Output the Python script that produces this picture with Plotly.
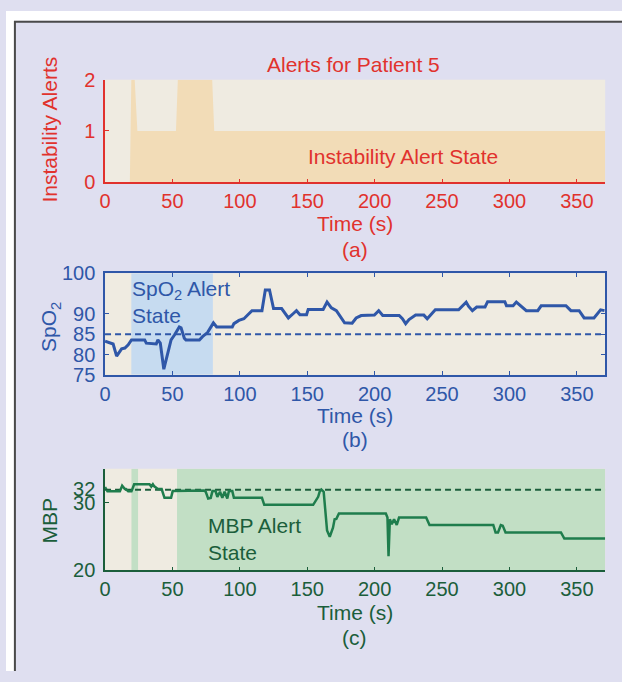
import plotly.graph_objects as go

# ---------------- data ----------------
time_ticks = [0, 50, 100, 150, 200, 250, 300, 350]

# (a) instability alert count
alert_time = [0, 18.4, 19.5, 22, 24, 52.6, 54, 79.5, 81, 371]
alert_count = [0, 0, 2, 2, 1, 1, 2, 2, 1, 1]

# (b) SpO2
spo2_time = [0, 3.7, 6, 8.6, 11, 12.3, 14.7, 17.2, 19.6, 29.4, 30.6, 38, 39.2, 41, 43.6, 46.6, 49,
             51.5, 55.1, 56.4, 58.8, 60, 70, 72.3, 76, 80.4, 82.8, 94.4, 95.6, 99.3, 103, 105.4, 109,
             116.4, 118.9, 122, 125, 131, 133.5, 136, 139.7, 142, 144.6, 149.5, 150.7, 161.8, 164.7,
             167.9, 171.6, 174, 177.7, 183.3, 186.3, 190, 199.8, 203, 206, 218.2, 220.6, 223, 225.5,
             230.4, 236.5, 239, 241.4, 245, 262.3, 264.7, 267.9, 269.6, 272.5, 275.7, 281.9, 283.8,
             296.6, 297.8, 302.7, 305.1, 308.8, 312.5, 321, 323.5, 341.9, 345.6, 351.7, 355.4, 362.7,
             366.4, 367.6, 370.5]
spo2 = [83.3, 82.8, 82.6, 79.6, 80.8, 81.4, 81.6, 82.4, 83.6, 83.6, 82.8, 82.6, 83.6, 82.8, 76.4, 80.8,
        83.6, 84.8, 86.8, 86.6, 84.0, 83.6, 83.6, 84.4, 85.4, 87.8, 86.8, 86.8, 87.6, 88.4, 88.8, 89.6,
        90.8, 90.8, 95.9, 95.9, 91.3, 91.3, 90.1, 89.0, 90.1, 90.8, 89.8, 89.8, 91.1, 91.1, 92.9, 91.5,
        90.8, 89.6, 87.8, 87.7, 89.0, 89.6, 89.7, 90.8, 89.6, 89.6, 88.8, 87.6, 88.6, 89.7, 89.7, 88.8,
        89.6, 91.0, 91.0, 91.9, 92.9, 91.9, 90.8, 91.7, 91.7, 93.0, 93.0, 92.0, 92.0, 92.9, 91.9, 90.8,
        90.8, 92.0, 92.0, 90.8, 90.8, 89.0, 89.0, 90.4, 91.0, 90.8]
spo2_threshold = 85
spo2_alert_intervals = [(19.5, 80)]
spo2_ticks = [75, 80, 85, 90, 100]

# (c) MBP
mbp_time = [0, 1.2, 1.8, 11, 12.7, 14.7, 15.5, 17.2, 19.6, 21.6, 33, 34.3, 35.5, 36.5, 39.2, 42, 44.1,
            49, 50.2, 73.5, 74.7, 76.5, 78.4, 79.7, 82, 83.3, 85.3, 87, 88.7, 90.7, 91.9, 94.4, 95.6,
            116.4, 118.1, 154.4, 156.9, 158.1, 159.3, 160.5, 162.2, 163.7, 164.7, 166.7, 169.1, 170.3,
            171.6, 173.5, 208.3, 209.5, 210.3, 211.3, 212.7, 214.4, 216.4, 218.1, 238.2, 240.7, 288,
            289.7, 291.5, 293.6, 295, 297.1, 338.2, 340.7, 371]
mbp = [32.3, 31.8, 31.66, 31.66, 32.5, 32.0, 32.0, 31.66, 31.66, 32.7, 32.7, 32.37, 32.7, 32.4, 32.0,
       32.0, 30.7, 30.7, 31.7, 31.8, 31.6, 30.6, 30.7, 31.7, 31.7, 30.85, 31.6, 30.7, 31.6, 30.6, 31.7,
       31.7, 30.7, 30.7, 29.67, 29.67, 30.4, 30.85, 31.66, 31.94, 31.6, 27.8, 25.9, 24.96, 26.3, 27.55,
       27.6, 28.4, 28.4, 27.8, 22.1, 27.55, 26.8, 27.55, 26.7, 27.8, 27.8, 26.7, 26.7, 25.6, 25.6, 26.7,
       26.6, 25.6, 25.6, 24.7, 24.7]
mbp_threshold = 31.9
mbp_alert_intervals = [(19.6, 24.5), (53.4, 371)]
mbp_ticks = [20, 30, 32]

x_range = [0, 371]

# ---------------- style ----------------
FONT = "Liberation Sans, Arial, Helvetica, sans-serif"
RED = "#e1322d"
ORANGE_FILL = "#f2dcb7"
BLUE = "#2f57a8"
BLUE_FILL = "#c6dbf0"
GREEN = "#1f7d4d"
GREEN_TXT = "#1b5e3b"
GREEN_FILL = "#c2dfc5"
BEIGE = "#efebe1"
LAVENDER = "#dfdff0"
W, H = 622, 682
FS_TICK = 20
FS = 21

def px(x):
    return x / W

def py(y):
    return 1 - y / H

fig = go.Figure()

# (a)
fig.add_trace(go.Scatter(x=alert_time, y=alert_count, mode="lines", fill="tozeroy",
                         fillcolor=ORANGE_FILL, line=dict(width=0, color=ORANGE_FILL),
                         xaxis="x", yaxis="y", hoverinfo="skip", showlegend=False))
# (b)
fig.add_trace(go.Scatter(x=x_range, y=[spo2_threshold, spo2_threshold], mode="lines",
                         line=dict(color=BLUE, width=2, dash="6px,4px"),
                         xaxis="x2", yaxis="y2", showlegend=False))
fig.add_trace(go.Scatter(x=spo2_time, y=spo2, mode="lines", line=dict(color=BLUE, width=3),
                         xaxis="x2", yaxis="y2", showlegend=False))
# (c)
fig.add_trace(go.Scatter(x=x_range, y=[mbp_threshold, mbp_threshold], mode="lines",
                         line=dict(color=GREEN_TXT, width=2, dash="6px,4px"),
                         xaxis="x3", yaxis="y3", showlegend=False))
fig.add_trace(go.Scatter(x=mbp_time, y=mbp, mode="lines", line=dict(color=GREEN, width=2.5),
                         xaxis="x3", yaxis="y3", showlegend=False))

shapes = []
for (a, b) in spo2_alert_intervals:
    shapes.append(dict(type="rect", xref="x2", yref="y2", x0=a, x1=b, y0=75, y1=100,
                       fillcolor=BLUE_FILL, line=dict(width=0), layer="below"))
for (a, b) in mbp_alert_intervals:
    shapes.append(dict(type="rect", xref="x3", yref="y3", x0=a, x1=b, y0=20, y1=35,
                       fillcolor=GREEN_FILL, line=dict(width=0), layer="below"))
# white outer margin + frame
shapes.append(dict(type="rect", xref="paper", yref="paper", x0=0, x1=1, y0=py(10), y1=1,
                   fillcolor="white", line=dict(width=0), layer="below"))
shapes.append(dict(type="rect", xref="paper", yref="paper", x0=0, x1=px(8), y0=0, y1=1,
                   fillcolor="white", line=dict(width=0), layer="below"))
shapes.append(dict(type="path", xref="paper", yref="paper",
                   path=f"M {px(9)},0 L {px(9)},{py(11)} L 1,{py(11)}",
                   line=dict(color="#4a4a4a", width=2), layer="above"))


def xaxis(color, anchor, mirror=False):
    return dict(domain=[px(100), px(605)], anchor=anchor, range=x_range, tickvals=time_ticks,
                ticks="inside", ticklen=4, tickcolor=color, showline=True,
                linecolor=color, linewidth=1.5, mirror=mirror, showgrid=False,
                zeroline=False, tickfont=dict(family=FONT, size=FS_TICK, color=color))


def yaxis(domain, rng, ticks, color, anchor, mirror=False):
    return dict(domain=domain, anchor=anchor, range=rng, tickvals=ticks, ticks="inside",
                ticklen=4, tickcolor=color, showline=True, linecolor=color, linewidth=1.5,
                mirror=mirror, showgrid=False, zeroline=False, ticklabelstandoff=4,
                tickfont=dict(family=FONT, size=FS_TICK, color=color))


fig.update_layout(
    width=W, height=H, margin=dict(l=0, r=0, t=0, b=0),
    paper_bgcolor=LAVENDER, plot_bgcolor=BEIGE, showlegend=False,
    xaxis=xaxis(RED, "y"),
    yaxis=yaxis([py(177), py(71)], [0, 2], [0, 1, 2], RED, "x"),
    xaxis2=xaxis(BLUE, "y2", mirror="ticks"),
    yaxis2=yaxis([py(376), py(271)], [75, 100], spo2_ticks, BLUE, "x2", mirror="ticks"),
    xaxis3=xaxis(GREEN_TXT, "y3"),
    yaxis3=yaxis([py(578), py(473)], [20, 35], mbp_ticks, GREEN_TXT, "x3"),
    shapes=shapes,
)

def ann(text, x, y, color, angle=0, xanchor="center", align="center"):
    return dict(text=text, x=px(x), y=py(y), xref="paper", yref="paper", showarrow=False,
                font=dict(family=FONT, size=FS, color=color), textangle=angle,
                xanchor=xanchor, yanchor="middle", align=align)

annotations = [
    ann("Alerts for Patient 5", 351, 55, RED),
    ann("Instability Alert State", 401, 150, RED),
    ann("Instability Alerts", 43, 123, RED, angle=-90),
    ann("Time (s)", 352, 220, RED),
    ann("(a)", 352, 246, RED),
    ann("SpO<sub>2</sub> Alert<br>State", 125, 301, BLUE, xanchor="left", align="left"),
    ann("SpO<sub>2</sub>", 45, 327, BLUE, angle=-90),
    ann("Time (s)", 352, 418, BLUE),
    ann("(b)", 352, 443, BLUE),
    ann("MBP Alert<br>State", 202, 546, GREEN_TXT, xanchor="left", align="left"),
    ann("MBP", 43, 527, GREEN_TXT, angle=-90),
    ann("Time (s)", 352, 622, GREEN_TXT),
    ann("(c)", 352, 647, GREEN_TXT),
]
fig.update_layout(annotations=annotations)

POST = """
(function(){
  var gd = document.getElementById('{plot_id}');
  var de = document.documentElement, b = document.body;
  [de, b].forEach(function(e){
    e.style.margin='0px'; e.style.padding='0px'; e.style.overflow='hidden';
  });
  if (gd.parentElement) { gd.parentElement.style.margin='0px'; gd.parentElement.style.padding='0px'; }
  gd.style.margin='0px';
})();
"""

fig.write_html("out.html", config={"displayModeBar": False}, post_script=POST)
